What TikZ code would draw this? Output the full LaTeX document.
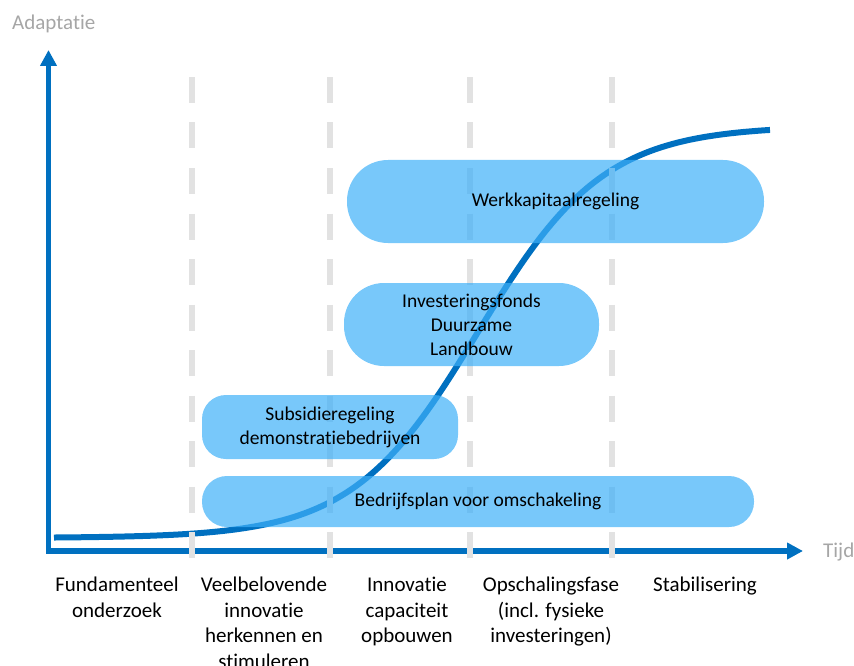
\documentclass[tikz,border=0pt]{standalone}
\usepackage{fontspec}
\setmainfont{Carlito}[Ligatures=NoCommon]
\usetikzlibrary{arrows.meta}
\definecolor{asblauw}{RGB}{0,112,192}
\definecolor{vlakblauw}{RGB}{62,176,248}
\definecolor{streepgrijs}{RGB}{226,226,226}
\definecolor{labelgrijs}{RGB}{166,166,166}

\begin{document}
\begin{tikzpicture}[x=1pt,y=-1pt,
  regeling/.style={fill=vlakblauw, fill opacity=0.7, text opacity=1, align=center, inner sep=0pt, font=\fontsize{19.5}{24}\selectfont},
  fase/.style={align=center, anchor=north, inner sep=0pt, font=\fontsize{21}{25.5}\selectfont},
  aslabel/.style={text=labelgrijs, anchor=base west, inner sep=0pt, font=\fontsize{21}{25}\selectfont}]
\useasboundingbox (0,0) rectangle (854,666);

% assen
\coordinate (ytop) at (48.5,50);
\coordinate (oorsprong) at (48.5,551);
\coordinate (xeind) at (803,551);
\draw[asblauw, line width=5.5pt, line join=miter, {Triangle[length=16pt,width=16pt]}-{Triangle[length=16pt,width=16pt]}] (ytop) -- (oorsprong) -- (xeind);
\node[aslabel] (adaptatie) at (12,30) {Adaptatie};
\node[aslabel] (tijd) at (823,557) {Tijd};

% S-curve
\draw[asblauw, line width=6pt] plot[domain=54:770, samples=120, smooth] (\x, {538-412/(1+exp(-(\x-478)/63))});

% fasegrenzen
\foreach \xs in {192,330,470,612}
  \draw[streepgrijs, line width=6.5pt, dash pattern=on 26pt off 19.5pt] (\xs,77) -- (\xs,558);

% regelingen
\node[regeling, minimum width=417pt, minimum height=83pt, rounded corners=41pt] (werkkapitaal) at (555.5,201.5) {Werkkapitaalregeling};
\node[regeling, minimum width=255pt, minimum height=83pt, rounded corners=40pt] (fonds) at (471.5,324.5) {Investeringsfonds\\Duurzame\\Landbouw};
\node[regeling, minimum width=256pt, minimum height=64pt, rounded corners=24pt] (subsidie) at (330,427) {Subsidieregeling\\demonstratiebedrijven};
\node[regeling, minimum width=552pt, minimum height=51pt, rounded corners=25pt] (bedrijfsplan) at (478,501.5) {Bedrijfsplan voor omschakeling};

% fasen
\node[fase] (onderzoek) at (117,577) {Fundamenteel\\onderzoek};
\node[fase] (veelbelovend) at (264,577) {Veelbelovende\\innovatie\\herkennen en\\stimuleren};
\node[fase] (capaciteit) at (407,577) {Innovatie\\capaciteit\\opbouwen};
\node[fase] (opschaling) at (551,577) {Opschalingsfase\\(incl. fysieke\\investeringen)};
\node[fase] (stabilisering) at (705,577) {Stabilisering};
\end{tikzpicture}
\end{document}
